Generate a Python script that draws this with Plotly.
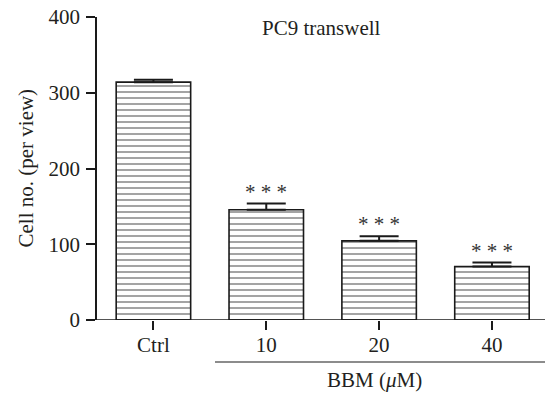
import plotly.graph_objects as go

categories = ["Ctrl", "10", "20", "40"]
values = [314, 145.5, 104.5, 70.5]
errors = [3, 8.3, 6.2, 5.3]
stars = ["", "***", "***", "***"]
y_ticks = [0, 100, 200, 300, 400]

FONT = "Liberation Serif"
TXT = "#231f20"
FS = 21

x_pos = list(range(len(categories)))

fig = go.Figure()
fig.add_trace(go.Bar(
    x=x_pos, y=values, width=0.66,
    marker=dict(
        color="white",
        line=dict(color="#1a1a1a", width=1.6),
        pattern=dict(shape="-", size=6, solidity=0.334, fgcolor="#4a4a4a",
                     bgcolor="white", fillmode="overlay"),
    ),
    error_y=dict(type="data", array=errors, arrayminus=[0]*4, symmetric=False,
                 color="#1a1a1a", thickness=2, width=19.5),
    showlegend=False,
))

for i, s in enumerate(stars):
    if s:
        fig.add_annotation(x=x_pos[i], y=values[i] + errors[i], xref="x", yref="y",
                           text=" ".join(s), showarrow=False, yanchor="bottom",
                           xanchor="center", yshift=-2,
                           font=dict(family=FONT, size=21, color="#333"))

fig.add_annotation(x=0.502, y=0.9637, xref="paper", yref="paper",
                   text="PC9 transwell", showarrow=False, xanchor="center", yanchor="middle",
                   font=dict(family=FONT, size=FS, color=TXT))
fig.add_annotation(x=-0.1607, y=0.5, xref="paper", yref="paper",
                   text="Cell no. (per view)", textangle=-90, showarrow=False,
                   xanchor="center", yanchor="middle",
                   font=dict(family=FONT, size=FS, color=TXT))
fig.add_annotation(x=0.6205, y=-0.198, xref="paper", yref="paper",
                   text="BBM (<i>μ</i>M)", showarrow=False, xanchor="center", yanchor="middle",
                   font=dict(family=FONT, size=FS, color=TXT))

# x baseline extending left beyond y-axis
fig.add_shape(type="line", xref="paper", yref="y", x0=-0.022, x1=1, y0=0, y1=0,
              line=dict(color="#1a1a1a", width=1.6))
# BBM group line
fig.add_shape(type="line", xref="paper", yref="paper", x0=0.2634, x1=1,
              y0=-0.1386, y1=-0.1386, line=dict(color="#1a1a1a", width=1.2))

fig.update_layout(
    width=545, height=396,
    margin=dict(l=97, r=0, t=17, b=76),
    plot_bgcolor="white", paper_bgcolor="white",
    font=dict(family=FONT, size=FS, color=TXT),
    xaxis=dict(range=[-0.5, 3.47], tickmode="array", tickvals=x_pos, ticktext=categories,
               showline=False, ticks="outside", ticklen=9, tickwidth=1.5,
               tickcolor="#1a1a1a", showgrid=False, zeroline=False, fixedrange=True,
               ticklabelstandoff=-3),
    yaxis=dict(range=[0, 400], tickmode="array", tickvals=y_ticks,
               showline=True, linecolor="#1a1a1a", linewidth=1.6,
               ticks="outside", ticklen=9, tickwidth=1.5, tickcolor="#1a1a1a",
               showgrid=False, zeroline=False, fixedrange=True, ticklabelstandoff=2),
)

fig.write_html("out.html")
